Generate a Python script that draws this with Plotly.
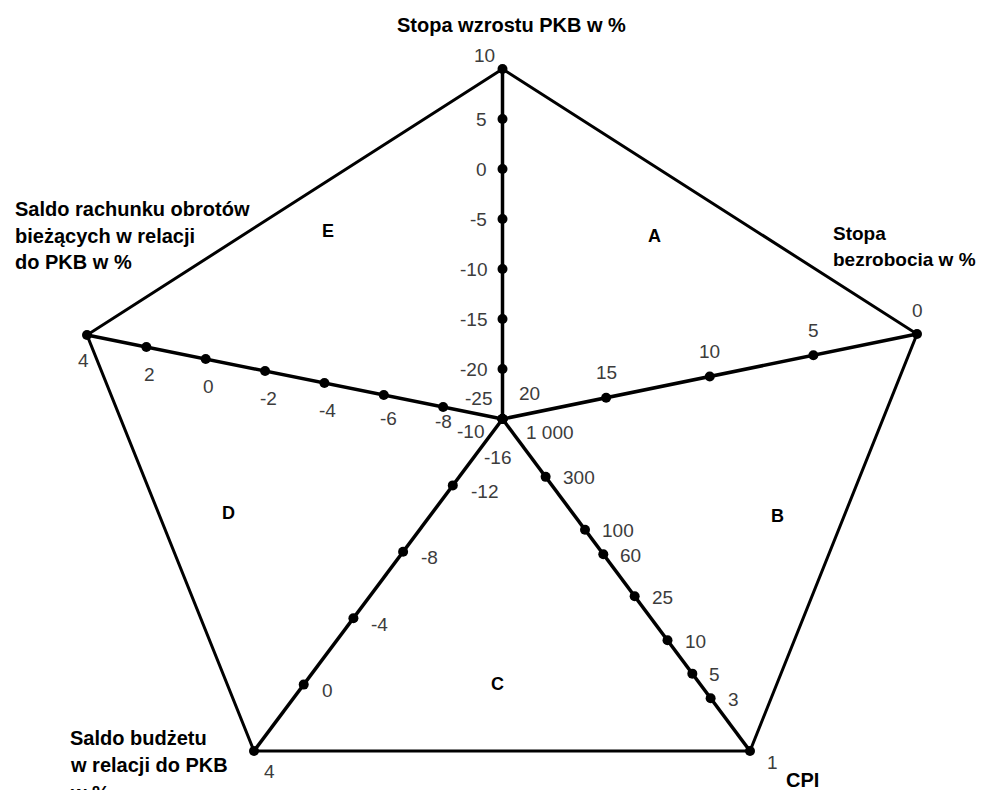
import numpy as np
import plotly.graph_objects as go

# values printed along each arm of the pentagon, outer end first, centre last
gdp_growth = [10, 5, 0, -5, -10, -15, -20, -25]
unemployment = [0, 5, 10, 15, 20]
cpi = [1, 3, 5, 10, 25, 60, 100, 300, 1000]
budget_balance = [4, 0, -4, -8, -12, -16]
current_account = [4, 2, 0, -2, -4, -6, -8, -10]

cpi_labels = ["1", "3", "5", "10", "25", "60", "100", "300", "1 000"]

area_names = ["A", "B", "C", "D", "E"]

# drawing is done in page pixels (body has the default 8px margin)
CENTER = (502.5, 419)
TICK_FONT = dict(family="Liberation Sans, Arial", size=19, color="#3c3c3c")
BOLD_FONT = dict(family="Liberation Sans, Arial", size=20, color="black", weight="bold")

# arm: values, labels, outer vertex, log scale, label anchor, label offset,
# offset for the outer label, offset for the centre label
arms = [
    dict(values=gdp_growth, labels=None, outer=(502.5, 69), log=False,
         anchor="right", off=(-14, 0), outer_off=("right", -6, -14), center_off=("center", -24, -21)),
    dict(values=unemployment, labels=None, outer=(917, 334), log=False,
         anchor="center", off=(0, -25), outer_off=("center", 0, -24), center_off=("center", 27, -26)),
    dict(values=cpi, labels=cpi_labels, outer=(750, 751), log=True,
         anchor="left", off=(15, 1), outer_off=("center", 22, 11), center_off=("center", 47, 13)),
    dict(values=budget_balance, labels=None, outer=(254, 751), log=False,
         anchor="left", off=(16, 6), outer_off=("center", 15, 20), center_off=("center", -5, 38)),
    dict(values=current_account, labels=None, outer=(87, 335), log=False,
         anchor="center", off=(3, 27), outer_off=("center", -4, 25), center_off=("center", -32, 12)),
]
# a couple of labels sit off the common offset in the original
nudges = {(4, -8): ("center", 0, 14), (4, -6): ("center", 5, 23)}


def place(values, outer, log=False):
    v = np.array(values, dtype=float)
    f = np.log10(v) if log else v
    t = (f - f[-1]) / (f[0] - f[-1])
    xs = CENTER[0] + t * (outer[0] - CENTER[0])
    ys = CENTER[1] + t * (outer[1] - CENTER[1])
    return xs, ys


def label(x, y, text, anchor, dx, dy, font=TICK_FONT, vanchor="middle"):
    return dict(x=x, y=y, text=text, showarrow=False, xanchor=anchor, yanchor=vanchor,
                xshift=dx, yshift=-dy, font=font)


fig = go.Figure()
annotations = []

# outer pentagon
corners = [a["outer"] for a in arms] + [arms[0]["outer"]]
fig.add_trace(go.Scatter(x=[c[0] for c in corners], y=[c[1] for c in corners], mode="lines",
                         line=dict(color="black", width=3), hoverinfo="skip"))

for i, arm in enumerate(arms):
    xs, ys = place(arm["values"], arm["outer"], arm["log"])
    fig.add_trace(go.Scatter(x=xs, y=ys, mode="lines+markers",
                             line=dict(color="black", width=3.5),
                             marker=dict(color="black", size=10), hoverinfo="skip"))
    texts = arm["labels"] or [str(v) for v in arm["values"]]
    n = len(texts)
    for j, (x, y, txt) in enumerate(zip(xs, ys, texts)):
        if j == 0:
            anc, dx, dy = arm["outer_off"]
        elif j == n - 1:
            anc, dx, dy = arm["center_off"]
        elif (i, arm["values"][j]) in nudges:
            anc, dx, dy = nudges[(i, arm["values"][j])]
        else:
            anc, (dx, dy) = arm["anchor"], arm["off"]
        annotations.append(label(x, y, txt, anc, dx, dy))

# area letters
area_pos = [(654, 236), (777, 516), (497, 684), (228, 513), (328, 231)]
for name, (x, y) in zip(area_names, area_pos):
    annotations.append(label(x, y, name, "center", 0, 0, dict(BOLD_FONT, size=18)))

# axis titles, one annotation per line to get the wide line spacing
titles = [
    (["Stopa wzrostu PKB w %"], 511, 25, "center", 20),
    (["Stopa", "bezrobocia w %"], 831, 233, "left", 19),
    (["CPI"], 802, 780, "center", 20),
    (["Saldo budżetu", "w relacji do PKB"], 68, 738, "left", 20),
    (["Saldo rachunku obrotów", "bieżących w relacji", "do PKB w %"], 13, 209, "left", 20),
]
for lines, x, y, anc, size in titles:
    for k, line in enumerate(lines):
        annotations.append(label(x, y + 26.5 * k, line, anc, 0, 0, dict(BOLD_FONT, size=size)))
# last line of the budget title runs off the bottom edge, as in the original
annotations.append(label(68, 780, "w %", "left", 0, 0, BOLD_FONT, vanchor="top"))

fig.update_layout(
    width=971, height=782,
    margin=dict(l=0, r=0, t=0, b=0),
    paper_bgcolor="white", plot_bgcolor="white",
    showlegend=False,
    annotations=annotations,
    xaxis=dict(range=[8, 979], visible=False, fixedrange=True),
    yaxis=dict(range=[790, 8], visible=False, fixedrange=True),
)

fig.write_html("out.html")
